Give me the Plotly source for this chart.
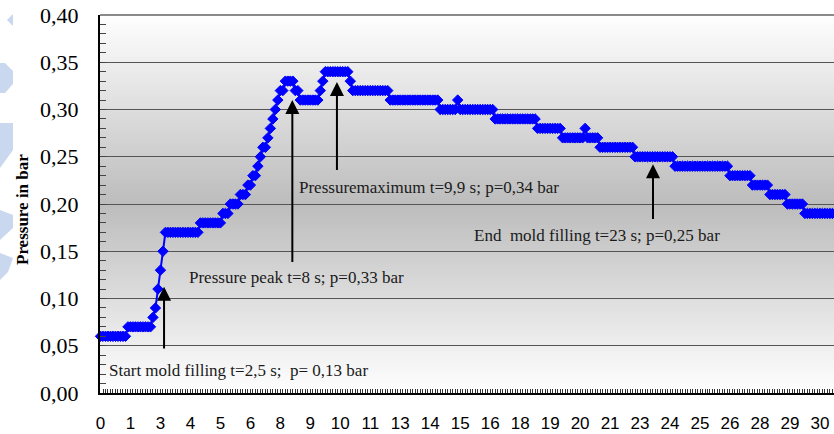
import plotly.graph_objects as go
import numpy as np

# ---- data ----
# pressure trace (bar), recorded as runs of equal consecutive samples
pressure_levels = [0.06, 0.07, 0.08, 0.09, 0.11, 0.13, 0.15, 0.17, 0.18, 0.19,
                   0.20, 0.21, 0.22, 0.23, 0.24, 0.25, 0.26, 0.27, 0.28, 0.29,
                   0.30, 0.31, 0.32, 0.33, 0.32, 0.31, 0.32, 0.33, 0.34, 0.33,
                   0.32, 0.31, 0.30, 0.31, 0.30, 0.29, 0.28, 0.27, 0.28, 0.27,
                   0.26, 0.25, 0.24, 0.23, 0.22, 0.21, 0.20, 0.19]
samples_per_level = [11, 10, 1, 1, 1, 1, 1, 14, 9, 3,
                     4, 3, 2, 2, 1, 1, 2, 1, 1, 1,
                     1, 1, 2, 4, 2, 8, 1, 1, 10, 1,
                     15, 20, 7, 1, 14, 17, 10, 9, 1, 5,
                     14, 16, 22, 9, 7, 7, 7, 13]
sample_interval_s = 1.25 / 12          # one category step of the time axis

tick_labels = ["0", "1", "3", "4", "5", "6", "8", "9", "10", "11", "13", "14", "15",
               "16", "18", "19", "20", "21", "23", "24", "25", "26", "28", "29", "30"]
tick_step_s = 1.25

annotation_texts = ["Start mold filling t=2,5 s;&nbsp; p= 0,13 bar",
                    "Pressure peak t=8 s; p=0,33 bar",
                    "Pressuremaximum t=9,9 s; p=0,34 bar",
                    "End&nbsp; mold filling t=23 s; p=0,25 bar"]
arrow_t = [2.65, 8.0, 9.86, 23.04]
arrow_head_p = [0.1125, 0.310, 0.329, 0.242]
arrow_tail_p = [0.0456, 0.137, 0.2345, 0.1825]
text_t = [0.27, 3.61, 8.19, 15.49]
text_p = [0.0235, 0.122, 0.2175, 0.1672]

# ---- build series ----
pressure = np.repeat(pressure_levels, samples_per_level)
time_s = np.arange(len(pressure)) * sample_interval_s
tick_vals = [i * tick_step_s for i in range(len(tick_labels))]

# ---- geometry (pixels) ----
W, H = 834, 434
ML, MR, MT, MB = 100, 0, 15, 41
PW, PH = W - ML - MR, H - MT - MB
x_px_per_s = 23.98
x0 = -0.5 / x_px_per_s
x1 = x0 + PW / x_px_per_s

SERIF = "Liberation Serif, Times New Roman, serif"


def px2paper(px, py):
    return (px - ML) / PW, (H - MB - py) / PH


fig = go.Figure()

fig.add_trace(go.Scatter(
    x=time_s, y=pressure, mode="lines+markers",
    line=dict(color="#0000FF", width=2),
    marker=dict(symbol="diamond", size=8, color="#0000FF",
                line=dict(color="#0000FF", width=1)),
    cliponaxis=False, showlegend=False, hoverinfo="skip"))

shapes = []
# vertical gradient background (white - grey - white)
n_bands = 126
for i in range(n_bands):
    f0, f1 = i / n_bands, (i + 1) / n_bands
    fc = (f0 + f1) / 2
    g = int(round(255 - (255 - 188) * (1 - abs(2 * fc - 1))))
    shapes.append(dict(type="rect", xref="paper", yref="paper",
                       x0=0, x1=1, y0=f0, y1=f1 + 0.002,
                       fillcolor=f"rgb({g},{g},{g})", line=dict(width=0),
                       layer="below"))
# top frame line
shapes.append(dict(type="line", xref="paper", yref="paper", x0=0, x1=1, y0=1, y1=1,
                   line=dict(color="#8a8a8a", width=2), layer="above"))

# decorative light-blue slide shapes at the far left
deco = [
    [(13, 14), (7, 20), (13, 26)],
    [(0, 63), (5, 63), (13, 71), (13, 84), (5, 93), (0, 93)],
    [(0, 123), (13, 123), (13, 150), (0, 168)],
    [(0, 210), (13, 215), (13, 228), (0, 240)],
    [(0, 253), (13, 258), (8, 272), (0, 280)],
]
for poly in deco:
    pts = [px2paper(px, py) for px, py in poly]
    path = "M " + " L ".join(f"{a:.5f},{b:.5f}" for a, b in pts) + " Z"
    shapes.append(dict(type="path", xref="paper", yref="paper", path=path,
                       fillcolor="#c9d8ef", line=dict(width=0), layer="above"))

annotations = []
for t, hp, tp in zip(arrow_t, arrow_head_p, arrow_tail_p):
    annotations.append(dict(x=t, y=hp, ax=t, ay=tp, xref="x", yref="y",
                            axref="x", ayref="y", text="", showarrow=True,
                            arrowhead=2, arrowsize=1.4, arrowwidth=2,
                            arrowcolor="black", standoff=0))
for txt, t, p in zip(annotation_texts, text_t, text_p):
    annotations.append(dict(x=t, y=p, xref="x", yref="y", text=txt,
                            showarrow=False, xanchor="left", yanchor="middle",
                            font=dict(family=SERIF, size=17, color="#1a1a1a")))
tx, ty = px2paper(23, 210)
annotations.append(dict(x=tx, y=ty, xref="paper", yref="paper",
                        text="<b>Pressure in bar</b>", textangle=-90,
                        showarrow=False, xanchor="center", yanchor="middle",
                        font=dict(family=SERIF, size=17, color="black")))

fig.update_layout(
    width=W, height=H, margin=dict(l=ML, r=MR, t=MT, b=MB),
    paper_bgcolor="white", plot_bgcolor="white",
    separators=", ", shapes=shapes, annotations=annotations,
    showlegend=False,
)
fig.update_xaxes(
    range=[x0, x1], tickmode="array", tickvals=tick_vals, ticktext=tick_labels,
    ticks="inside", ticklen=4, tickcolor="#333333", tickwidth=1,
    showline=True, linecolor="black", linewidth=2, mirror=False,
    showgrid=False, zeroline=False, ticklabelstandoff=14,
    tickfont=dict(family="Liberation Sans, Arial, sans-serif", size=17, color="black"),
    minor=dict(tickmode="linear", tick0=0, dtick=sample_interval_s, ticks="inside",
               ticklen=4, tickcolor="#333333", tickwidth=1, showgrid=False),
)
fig.update_yaxes(
    range=[0, 0.40], dtick=0.05, tick0=0, tickformat=".2f",
    ticks="inside", ticklen=6, tickcolor="#444444",
    showline=True, linecolor="black", linewidth=2,
    showgrid=True, gridcolor="#555555", gridwidth=1, zeroline=False,
    ticklabelstandoff=15,
    tickfont=dict(family=SERIF, size=22, color="black"),
    minor=dict(dtick=0.01, ticks="inside", ticklen=6, tickcolor="#444444", showgrid=False),
)

fig.write_html("out.html")
